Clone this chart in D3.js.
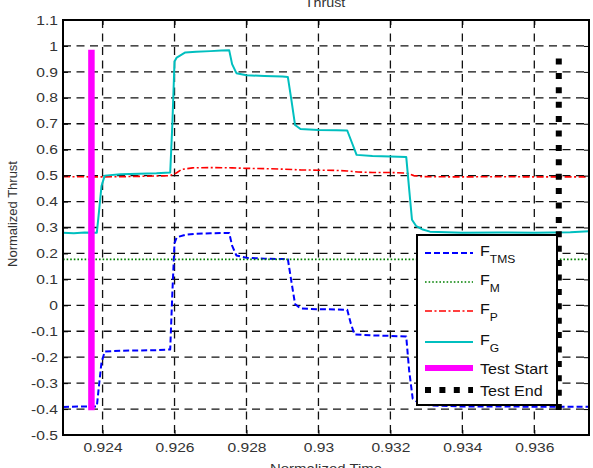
<!DOCTYPE html>
<html>
<head>
<meta charset="utf-8">
<script src="https://cdn.jsdelivr.net/npm/d3@7"></script>
<style>
  body { margin: 0; background: #fff; }
  svg { display: block; font-family: "Liberation Sans", Arial, sans-serif; }
</style>
</head>
<body>
<div id="chart"></div>
<script>
const WIDTH = 593;
const HEIGHT = 468;
const margin = { top: 20, right: 4, bottom: 33, left: 63 };

const xDomain = [0.9229, 0.93752];
const yDomain = [-0.5, 1.1];
const xTicks = [0.924, 0.926, 0.928, 0.93, 0.932, 0.934, 0.936];
const xTickLabels = ['0.924', '0.926', '0.928', '0.93', '0.932', '0.934', '0.936'];
const yTicks = [-0.5, -0.4, -0.3, -0.2, -0.1, 0, 0.1, 0.2, 0.3, 0.4, 0.5, 0.6, 0.7, 0.8, 0.9, 1, 1.1];
const yTickLabels = ['-0.5', '-0.4', '-0.3', '-0.2', '-0.1', '0', '0.1', '0.2', '0.3', '0.4',
  '0.5', '0.6', '0.7', '0.8', '0.9', '1', '1.1'];

// F_TMS
const tmsTime = [0.92290, 0.92330, 0.92384, 0.92390, 0.92397, 0.92406, 0.92450, 0.92500, 0.92550,
  0.92588, 0.92594, 0.92600, 0.92606, 0.92630, 0.92660, 0.92700, 0.92752, 0.92760, 0.92772,
  0.92800, 0.92850, 0.92915, 0.92925, 0.92935, 0.92950, 0.93000, 0.93050, 0.93080, 0.93090,
  0.93100, 0.93150, 0.93200, 0.93244, 0.93252, 0.93262, 0.93280, 0.93310, 0.93400, 0.93500,
  0.93600, 0.93752];
const tmsValue = [-0.392, -0.390, -0.390, -0.310, -0.220, -0.178, -0.175, -0.174, -0.173,
  -0.170, 0.050, 0.240, 0.262, 0.272, 0.276, 0.278, 0.279, 0.230, 0.192,
  0.183, 0.180, 0.178, 0.090, 0.005, -0.012, -0.015, -0.016, -0.017, -0.070,
  -0.112, -0.116, -0.118, -0.120, -0.250, -0.360, -0.378, -0.386, -0.390, -0.390,
  -0.391, -0.391];

// F_M
const mTime = [0.92290, 0.93752];
const mValue = [0.177, 0.177];

// F_P
const pTime = [0.92290, 0.92400, 0.92500, 0.92588, 0.92605, 0.92620, 0.92650, 0.92700, 0.92760,
  0.92800, 0.92850, 0.92900, 0.92950, 0.93000, 0.93050, 0.93080, 0.93110, 0.93150, 0.93200,
  0.93245, 0.93265, 0.93290, 0.93400, 0.93500, 0.93600, 0.93752];
const pValue = [0.496, 0.495, 0.497, 0.500, 0.510, 0.524, 0.530, 0.531, 0.530,
  0.528, 0.527, 0.525, 0.522, 0.521, 0.520, 0.518, 0.514, 0.512, 0.512,
  0.510, 0.500, 0.496, 0.495, 0.496, 0.495, 0.495];

// F_G
const gTime = [0.92290, 0.92320, 0.92350, 0.92384, 0.92390, 0.92397, 0.92406, 0.92450, 0.92500,
  0.92550, 0.92588, 0.92594, 0.92600, 0.92606, 0.92630, 0.92660, 0.92700, 0.92730, 0.92752,
  0.92760, 0.92772, 0.92800, 0.92850, 0.92900, 0.92915, 0.92925, 0.92935, 0.92950, 0.93000,
  0.93050, 0.93080, 0.93095, 0.93106, 0.93150, 0.93200, 0.93244, 0.93252, 0.93260, 0.93272,
  0.93290, 0.93310, 0.93400, 0.93500, 0.93600, 0.93700, 0.93752];
const gValue = [0.280, 0.278, 0.281, 0.280, 0.360, 0.460, 0.500, 0.505, 0.507,
  0.509, 0.512, 0.700, 0.940, 0.955, 0.975, 0.978, 0.980, 0.982, 0.983,
  0.930, 0.895, 0.887, 0.884, 0.882, 0.880, 0.790, 0.695, 0.680, 0.676,
  0.675, 0.674, 0.620, 0.580, 0.576, 0.574, 0.572, 0.450, 0.330, 0.305,
  0.292, 0.284, 0.280, 0.281, 0.280, 0.282, 0.286];

// markers
const startTime = [0.92369, 0.92369];
const startValue = [-0.405, 0.985];
const endTime = [0.93668, 0.93668];
const endValue = [-0.404, 0.965];

const legendNames = ['F', 'F', 'F', 'F', 'Test Start', 'Test End'];
const legendSubs = ['TMS', 'M', 'P', 'G', '', ''];

const seriesStyles = [
  { color: '#0000ff', width: 2, dash: '6 3' },
  { color: '#008000', width: 1.6, dash: '1.6 2' },
  { color: '#ff0000', width: 1.6, dash: '7 2.5 2 2.5' },
  { color: '#00bfbf', width: 2, dash: null },
  { color: '#ff00ff', width: 6.5, dash: null },
  { color: '#000000', width: 6, dash: '6 8.4' },
];

const toPoints = (t, v) => t.map((d, i) => [d, v[i]]);
const seriesData = [
  toPoints(tmsTime, tmsValue),
  toPoints(mTime, mValue),
  toPoints(pTime, pValue),
  toPoints(gTime, gValue),
  toPoints(startTime, startValue),
  toPoints(endTime, endValue),
];

const innerW = WIDTH - margin.left - margin.right;
const innerH = HEIGHT - margin.top - margin.bottom;

const x = d3.scaleLinear().domain(xDomain).range([0, innerW]);
const y = d3.scaleLinear().domain(yDomain).range([innerH, 0]);

const svg = d3.select('#chart')
  .append('svg')
  .attr('width', WIDTH)
  .attr('height', HEIGHT);

const plot = svg.append('g').attr('transform', `translate(${margin.left},${margin.top})`);

// grid
const grid = plot.append('g')
  .attr('stroke', '#111')
  .attr('stroke-width', 1.3)
  .attr('stroke-dasharray', '8 5.5')
  .attr('fill', 'none');

grid.selectAll('line.gx')
  .data(xTicks)
  .join('line')
  .attr('class', 'gx')
  .attr('x1', d => x(d)).attr('x2', d => x(d))
  .attr('y1', 0).attr('y2', innerH);

grid.selectAll('line.gy')
  .data(yTicks.slice(1, -1))
  .join('line')
  .attr('class', 'gy')
  .attr('x1', 0).attr('x2', innerW)
  .attr('y1', d => y(d)).attr('y2', d => y(d));

// series
const line = d3.line().x(d => x(d[0])).y(d => y(d[1]));

plot.append('g')
  .selectAll('path')
  .data(seriesData)
  .join('path')
  .attr('d', line)
  .attr('fill', 'none')
  .attr('stroke', (d, i) => seriesStyles[i].color)
  .attr('stroke-width', (d, i) => seriesStyles[i].width)
  .attr('stroke-dasharray', (d, i) => seriesStyles[i].dash)
  .attr('stroke-linejoin', 'round');

// axes
const tickStretch = 1.2;
const fmtX = d => xTickLabels[xTicks.indexOf(d)];
const fmtY = d => yTickLabels[yTicks.indexOf(d)];

const xAxis = plot.append('g')
  .attr('transform', `translate(0,${innerH})`)
  .call(d3.axisBottom(x).tickValues(xTicks).tickFormat(fmtX).tickSize(-5).tickPadding(8));
const yAxis = plot.append('g')
  .call(d3.axisLeft(y).tickValues(yTicks).tickFormat(fmtY).tickSize(-5).tickPadding(4.2));
plot.append('g')
  .call(d3.axisTop(x).tickValues(xTicks).tickFormat('').tickSize(-5));
plot.append('g')
  .attr('transform', `translate(${innerW},0)`)
  .call(d3.axisRight(y).tickValues(yTicks).tickFormat('').tickSize(-5));

plot.selectAll('.domain').remove();
plot.selectAll('.tick line').attr('stroke', '#000').attr('stroke-width', 1);

[xAxis, yAxis].forEach(a => a.selectAll('text')
  .attr('font-size', 13)
  .attr('font-family', '"Liberation Sans", Arial, sans-serif')
  .attr('fill', '#333')
  .attr('transform', `scale(${tickStretch},1)`));

plot.append('rect')
  .attr('width', innerW)
  .attr('height', innerH)
  .attr('fill', 'none')
  .attr('stroke', '#000')
  .attr('stroke-width', 2);

// titles (the reference crops these at the picture edges)
function stretchedText(px, py, txt, size, sx, rotate) {
  const g = svg.append('g')
    .attr('transform', `translate(${px},${py})${rotate ? ` rotate(${rotate})` : ''} scale(${sx},1)`);
  return g.append('text')
    .attr('text-anchor', 'middle')
    .attr('font-size', size)
    .attr('fill', '#333')
    .text(txt);
}

stretchedText(325, 7, 'Thrust', 13, 1.1);
stretchedText(326, 473, 'Normalized Time', 13, 1.15);
stretchedText(17, 214, 'Normalized Thrust', 13, 1, -90);

// legend
const legend = svg.append('g').attr('transform', 'translate(417,235)');
legend.append('rect')
  .attr('width', 140)
  .attr('height', 170)
  .attr('fill', '#fff')
  .attr('stroke', '#000')
  .attr('stroke-width', 2);

const legendRowY = [18, 47, 76, 107, 133, 155];

legendNames.forEach((name, i) => {
  const ry = legendRowY[i];
  const st = seriesStyles[i];
  legend.append('line')
    .attr('x1', 8).attr('x2', 56)
    .attr('y1', ry).attr('y2', ry)
    .attr('stroke', st.color)
    .attr('stroke-width', i === 4 ? 6 : st.width)
    .attr('stroke-dasharray', st.dash);
  const hasSub = legendSubs[i] !== '';
  const t = legend.append('g')
    .attr('transform', `translate(63,${ry + (hasSub ? 3 : 5.5)}) scale(1.15,1)`)
    .append('text')
    .attr('font-size', 14)
    .attr('fill', '#111')
    .text(name);
  if (hasSub) {
    t.append('tspan')
      .attr('dy', 7)
      .attr('font-size', 10.5)
      .text(legendSubs[i]);
  }
});
</script>
</body>
</html>
